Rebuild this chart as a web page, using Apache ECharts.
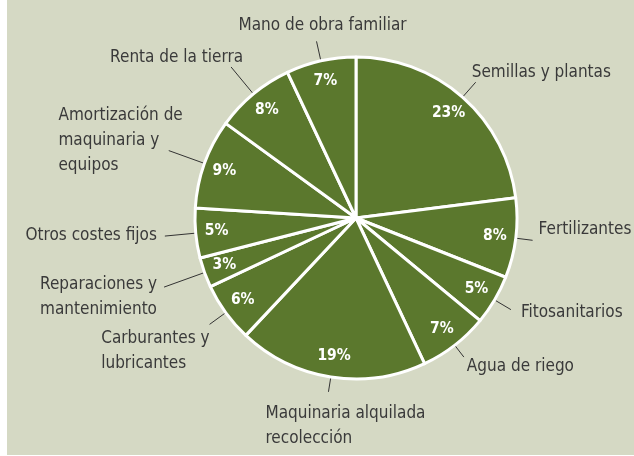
<!DOCTYPE html>
<html>
<head>
<meta charset="utf-8">
<script src="https://cdn.jsdelivr.net/npm/echarts@6/dist/echarts.min.js"></script>
<style>
html,body{margin:0;padding:0;background:#ffffff;}
#chart{width:634px;height:456px;}
</style>
</head>
<body>
<div id="chart"></div>
<script>
// ---- data ----
const categories = [
  'Semillas y plantas',
  'Fertilizantes',
  'Fitosanitarios',
  'Agua de riego',
  'Maquinaria alquilada\nrecolección',
  'Carburantes y\nlubricantes',
  'Reparaciones y\nmantenimiento',
  'Otros costes fijos',
  'Amortización de\nmaquinaria y\nequipos',
  'Renta de la tierra',
  'Mano de obra familiar'
];
const shares = [23, 8, 5, 7, 19, 6, 3, 5, 9, 8, 7];

// ---- label placement (layout only) ----
// len: leader length; mode: L/R/C single-line anchor, BR/BC block anchored right/center with left-aligned lines
const labelLen  = [20, 17, 19, 15, 15, 20, 43, 31, 38, 35, 20];
const labelMode = ['L', 'L', 'L', 'L', 'BC', 'BR', 'BR', 'R', 'BR', 'R', 'C'];
const labelDx   = [-4, 6, 10, 3, 17, 0, -7, -8, 14, 12, 6];
const labelDy   = [-10, -11, 3, 10, 34, 27, 9.5, 0, -10, -9, -16];

const GREEN = '#5b782d';
const BG = '#d5d9c4';
const FONT = "'DejaVu Sans Condensed', 'Liberation Sans Narrow', sans-serif";

const mainData = categories.map((n, i) => ({
  name: n,
  value: shares[i],
  labelLine: { length: labelLen[i], length2: 0 }
}));
const pctData = categories.map((n, i) => ({ name: n, value: shares[i] }));

const chart = echarts.init(document.getElementById('chart'), null, { renderer: 'canvas' });
chart.setOption({
  backgroundColor: '#ffffff',
  animation: false,
  graphic: [{
    type: 'rect', silent: true, z: 0,
    shape: { x: 7, y: 0, width: 627, height: 455 },
    style: { fill: BG }
  }],
  series: [
    {
      type: 'pie',
      center: [356, 218],
      radius: 161,
      startAngle: 90,
      clockwise: true,
      avoidLabelOverlap: false,
      silent: true,
      itemStyle: { color: GREEN, borderColor: '#ffffff', borderWidth: 3 },
      label: {
        show: true,
        position: 'outer',
        color: '#3a3a3a',
        fontFamily: FONT,
        fontSize: 17,
        lineHeight: 25,
        formatter: '{b}'
      },
      labelLine: { show: true, length: 25, length2: 0, lineStyle: { color: '#333333', width: 1 } },
      labelLayout: function (p) {
        const i = p.dataIndex;
        const pts = p.labelLinePoints;
        const end = pts[pts.length - 1];
        const w = p.labelRect.width;
        const mode = labelMode[i];
        let x = end[0] + labelDx[i];
        let align = 'left';
        if (mode === 'R') align = 'right';
        else if (mode === 'C') align = 'center';
        else if (mode === 'BR') { x = x - w; align = 'left'; }
        else if (mode === 'BC') { x = x - w / 2; align = 'left'; }
        return {
          x: x,
          y: end[1] + labelDy[i],
          align: align,
          verticalAlign: 'middle',
          labelLinePoints: pts
        };
      },
      emphasis: { disabled: true },
      data: mainData
    },
    {
      type: 'pie',
      center: [356, 218],
      radius: [112, 162],
      startAngle: 90,
      clockwise: true,
      silent: true,
      z: 3,
      itemStyle: { color: 'rgba(0,0,0,0)', borderWidth: 0 },
      label: {
        show: true,
        position: 'inside',
        color: '#ffffff',
        fontFamily: FONT,
        fontWeight: 'bold',
        fontSize: 15.5,
        formatter: '{c}%'
      },
      labelLine: { show: false },
      emphasis: { disabled: true },
      data: pctData
    }
  ]
});
</script>
</body>
</html>
